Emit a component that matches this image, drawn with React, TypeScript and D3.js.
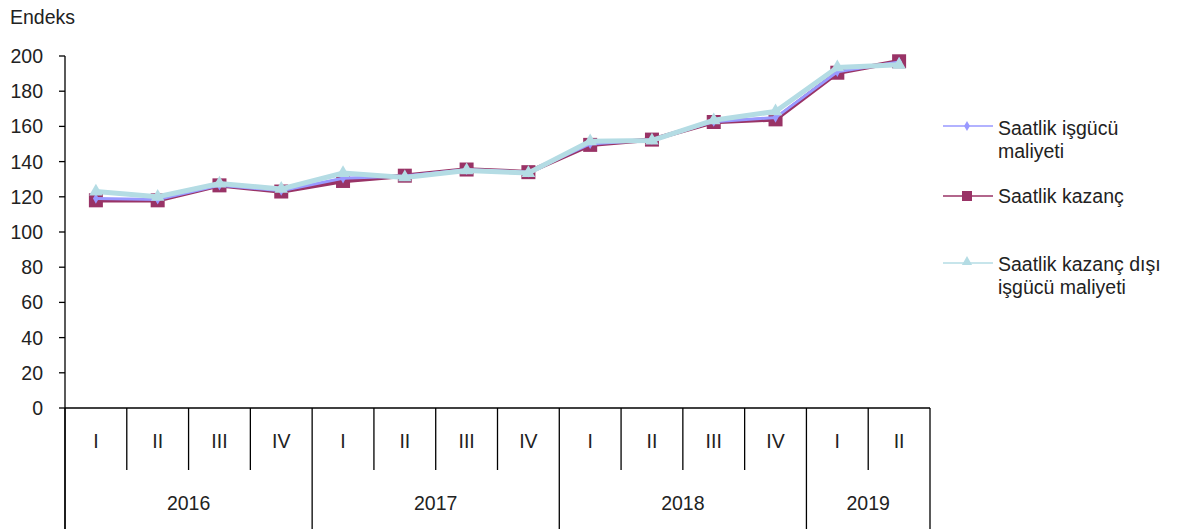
import * as d3 from 'd3';

const quarters = ['I', 'II', 'III', 'IV', 'I', 'II', 'III', 'IV', 'I', 'II', 'III', 'IV', 'I', 'II'];
const years = ['2016', '2017', '2018', '2019'];
const yearSpans = [4, 4, 4, 2];
const yTicks = [0, 20, 40, 60, 80, 100, 120, 140, 160, 180, 200];

const isgucu = [119, 118.5, 126.5, 123.5, 130.5, 131.8, 135.3, 133.9, 150, 152.4, 162.7, 165, 191, 196.6];
const kazanc = [118, 118, 126.5, 123, 129, 132, 135.5, 134, 149.5, 152.5, 162.5, 164, 190.5, 197];
const disi = [123, 120, 127.5, 124.5, 133.5, 131, 135, 133.5, 151.5, 152, 163.5, 168.5, 193.5, 195];

const W = 1183;
const H = 529;
const left = 65;
const right = 930;
const top = 56;
const bottom = 408;
const font = 'Liberation Sans, Arial, sans-serif';
const fs = 19.5;
const textColor = '#222';

export default function App() {
  const x = d3.scaleBand<number>().domain(d3.range(quarters.length)).range([left, right]);
  const y = d3.scaleLinear().domain([0, 200]).range([bottom, top]);
  const cx = (i: number) => (x(i) as number) + x.bandwidth() / 2;
  const line = d3.line<number>().x((_d, i) => cx(i)).y(d => y(d));

  const yearEdges: number[] = [];
  let acc = 0;
  yearSpans.forEach(s => { yearEdges.push(acc); acc += s; });
  yearEdges.push(acc);
  const edgeX = (i: number) => (i >= quarters.length ? right : (x(i) as number));

  const tri = d3.symbol().type(d3.symbolTriangle).size(80)();
  const diamond = d3.symbol().type(d3.symbolDiamond).size(30)();

  return (
    <svg width={W} height={H} style={{ position: 'absolute', left: 0, top: 0, background: '#fff' }} fontFamily={font}>
      <text x={10} y={24} fontSize={fs} fill={textColor}>Endeks</text>

      {/* y axis */}
      <line x1={left} x2={left} y1={top} y2={H} stroke="#000" strokeWidth={1.3} />
      {yTicks.map(t => (
        <g key={t}>
          <line x1={left - 6} x2={left} y1={y(t)} y2={y(t)} stroke="#000" strokeWidth={1.3} />
          <text x={43} y={y(t)} dy="0.36em" textAnchor="end" fontSize={fs} fill={textColor}>{t}</text>
        </g>
      ))}

      {/* category axis */}
      <line x1={left} x2={right} y1={bottom} y2={bottom} stroke="#000" strokeWidth={1.3} />
      {quarters.map((q, i) => (
        <g key={i}>
          {i > 0 && !yearEdges.includes(i) && (
            <line x1={x(i)} x2={x(i)} y1={bottom} y2={470} stroke="#000" strokeWidth={1.3} />
          )}
          <text x={cx(i)} y={441} dy="0.36em" textAnchor="middle" fontSize={fs} fill={textColor}>{q}</text>
        </g>
      ))}
      {yearEdges.map((e, i) => (
        <line key={'ye' + i} x1={edgeX(e)} x2={edgeX(e)} y1={bottom} y2={H} stroke="#000" strokeWidth={1.3} />
      ))}
      {years.map((yr, i) => (
        <text key={yr} x={(edgeX(yearEdges[i]) + edgeX(yearEdges[i + 1])) / 2} y={503} dy="0.36em"
          textAnchor="middle" fontSize={fs} fill={textColor}>{yr}</text>
      ))}

      {/* series */}
      <path d={line(kazanc) ?? ''} fill="none" stroke="#993366" strokeWidth={4.5} />
      {kazanc.map((v, i) => (
        <rect key={'k' + i} x={cx(i) - 7} y={y(v) - 7} width={14} height={14} fill="#993366" />
      ))}
      <path d={line(isgucu) ?? ''} fill="none" stroke="#9999ff" strokeWidth={3} />
      {isgucu.map((v, i) => (
        <path key={'p' + i} d={diamond ?? ''} transform={`translate(${cx(i)},${y(v)})`} fill="#9999ff" />
      ))}
      <path d={line(disi) ?? ''} fill="none" stroke="#b4dce4" strokeWidth={5} />
      {disi.map((v, i) => (
        <path key={'d' + i} d={tri ?? ''} transform={`translate(${cx(i)},${y(v)})`} fill="#b4dce4" />
      ))}

      {/* legend */}
      <g fontSize={fs} fill={textColor}>
        <line x1={943} x2={993} y1={126} y2={126} stroke="#9999ff" strokeWidth={1.5} />
        <path d={diamond ?? ''} transform="translate(967,126)" fill="#9999ff" />
        <text x={998} y={128} dy="0.36em">Saatlik işgücü</text>
        <text x={998} y={151} dy="0.36em">maliyeti</text>

        <line x1={943} x2={993} y1={196} y2={196} stroke="#993366" strokeWidth={1.5} />
        <rect x={962} y={191} width={10} height={10} fill="#993366" />
        <text x={998} y={196} dy="0.36em">Saatlik kazanç</text>

        <line x1={943} x2={993} y1={263} y2={263} stroke="#b4dce4" strokeWidth={1.5} />
        <path d={tri ?? ''} transform="translate(967,262) scale(0.75)" fill="#b4dce4" />
        <text x={998} y={264} dy="0.36em">Saatlik kazanç dışı</text>
        <text x={998} y={287} dy="0.36em">işgücü maliyeti</text>
      </g>
    </svg>
  );
}
